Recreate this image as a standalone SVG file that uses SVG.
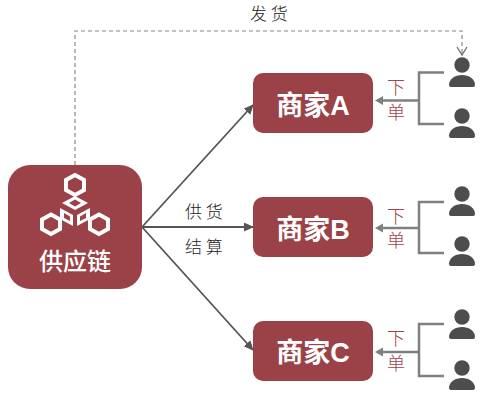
<svg xmlns="http://www.w3.org/2000/svg" width="502" height="402" viewBox="0 0 502 402">
<style>
.box{fill:#9b4248}
.title{font-family:"Liberation Sans","Noto Sans CJK SC",sans-serif;font-size:27px;font-weight:700;fill:#fff;text-anchor:middle}
.sub{font-family:"Noto Sans CJK SC",sans-serif;font-size:24px;font-weight:500;fill:#fff;text-anchor:middle}
.lbl{font-family:"Noto Sans CJK SC",sans-serif;font-size:17px;font-weight:300;fill:#222;text-anchor:middle}
.ord{font-family:"Noto Sans CJK SC",sans-serif;font-size:18px;font-weight:300;fill:#a0454c;text-anchor:middle}
.arrow{fill:none;stroke:#555;stroke-width:1.8}
.br{fill:none;stroke:#7f7f7f;stroke-width:2.5}
.dash{fill:none;stroke:#8a8a8a;stroke-width:1.2;stroke-dasharray:4 3}
.p{fill:#4d4d4d}
.hex{fill:none;stroke:#fff;stroke-width:4}
</style>
<defs>
<marker id="ah" markerWidth="11" markerHeight="10" refX="9" refY="4.500" orient="auto" markerUnits="userSpaceOnUse"><path d="M0 0L10 4.500L0 9Z" fill="#555"/></marker>
<marker id="ag" markerWidth="10" markerHeight="10" refX="1" refY="4.500" orient="auto" markerUnits="userSpaceOnUse"><path d="M0 0L8 4.500L0 9Z" fill="#7f7f7f"/></marker>
<marker id="ao" markerWidth="12" markerHeight="14" refX="9" refY="5.500" orient="auto" markerUnits="userSpaceOnUse"><path d="M1 0.500L9 5.500L1 10.500" fill="none" stroke="#666" stroke-width="1.2"/></marker>
<g id="person"><circle cx="0" cy="0" r="7.700" class="p"/><path class="p" d="M-13 20C-13 14-7 10 0 10S13 14 13 20Q13 22 11 22H-11Q-13 22-13 20Z"/></g>
</defs>
<g id="connectors">
<path class="dash" d="M75 165V31H462V55" marker-end="url(#ao)"/>
<path class="arrow" d="M142 227L253 105" marker-end="url(#ah)"/>
<path class="arrow" d="M142 227H253" marker-end="url(#ah)"/>
<path class="arrow" d="M142 227L253 350" marker-end="url(#ah)"/>
<g class="brackets">
<path class="br" d="M444 72.500H419V124H444"/><path class="br" d="M419 100.500H382" marker-end="url(#ag)"/>
<path class="br" d="M444 202H419V253H444"/><path class="br" d="M419 228H382" marker-end="url(#ag)"/>
<path class="br" d="M444 324H419V376H444"/><path class="br" d="M419 352H382" marker-end="url(#ag)"/>
</g>
</g>
<g id="supply-chain">
<rect class="box" x="8" y="165" width="134" height="124" rx="22"/>
<path class="hex" d="M75 175L84 180V190L75 195L66 190V180Z"/>
<path class="hex" d="M51 214.500L60 219.500V229L51 234L42 229V219.500Z"/>
<path class="hex" d="M99 214.500L108 219.500V229L99 234L90 229V219.500Z"/>
<path d="M75 196L88 203L75 210L62 203Z" fill="#fff"/><path d="M75 199.500L81 203L75 206.500L69 203Z" fill="#9b4248"/>
<path d="M60 208L73 215V226L60 219Z" fill="#fff"/><path d="M64 213L70 216.500V221L64 218Z" fill="#9b4248"/>
<path d="M90 208L77 215V226L90 219Z" fill="#fff"/><path d="M86 213L80 216.500V221L86 218Z" fill="#9b4248"/>
<text class="sub" x="75" y="270">供应链</text>
</g>
<g id="merchant-a"><rect class="box" x="253" y="73" width="120" height="60" rx="10"/><text class="title" x="313" y="115">商家A</text></g>
<g id="merchant-b"><rect class="box" x="253" y="197" width="120" height="60" rx="10"/><text class="title" x="313" y="239">商家B</text></g>
<g id="merchant-c"><rect class="box" x="253" y="321" width="120" height="60" rx="10"/><text class="title" x="313" y="362">商家C</text></g>
<g id="users">
<use href="#person" x="462" y="65"/><use href="#person" x="462" y="116"/>
<use href="#person" x="462" y="194"/><use href="#person" x="462" y="244"/>
<use href="#person" x="462" y="317"/><use href="#person" x="462" y="368"/>
</g>
<g id="labels">
<text class="lbl" x="269" y="20">发 货</text>
<text class="lbl" x="204" y="218">供 货</text>
<text class="lbl" x="204" y="253">结 算</text>
<text class="ord" x="396" y="94">下</text><text class="ord" x="396" y="119">单</text>
<text class="ord" x="396" y="223">下</text><text class="ord" x="396" y="247">单</text>
<text class="ord" x="396" y="345">下</text><text class="ord" x="396" y="370">单</text>
</g>
</svg>
